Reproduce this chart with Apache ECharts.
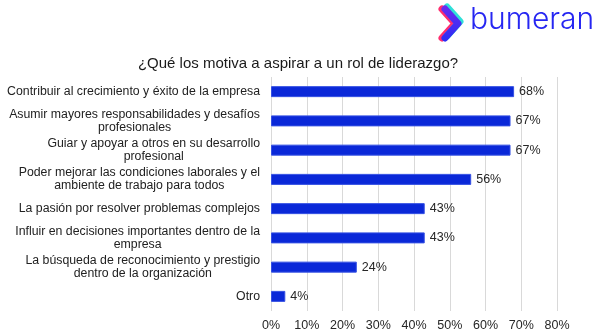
<!DOCTYPE html>
<html>
<head>
<meta charset="utf-8">
<script src="https://cdn.jsdelivr.net/npm/echarts@6/dist/echarts.min.js"></script>
<style>
  html, body { margin: 0; padding: 0; background: #fff; }
  #chart { width: 602px; height: 336px; }
</style>
</head>
<body>
<div id="chart"></div>
<script>
// Motivaciones para aspirar a un rol de liderazgo (% de respuestas)
const categories = [
  'Contribuir al crecimiento y éxito de la empresa',
  'Asumir mayores responsabilidades y desafíos\nprofesionales',
  'Guiar y apoyar a otros en su desarrollo\nprofesional',
  'Poder mejorar las condiciones laborales y el\nambiente de trabajo para todos',
  'La pasión por resolver problemas complejos',
  'Influir en decisiones importantes dentro de la\nempresa',
  'La búsqueda de reconocimiento y prestigio\ndentro de la organización',
  'Otro'
];
const values = [68, 67, 67, 56, 43, 43, 24, 4];
const axisMin = 0;
const axisMax = 80;
const axisStep = 10;

const titleText = '¿Qué los motiva a aspirar a un rol de liderazgo?';
const brandText = 'bumeran';

const chart = echarts.init(document.getElementById('chart'), null, { renderer: 'canvas' });

const FONT = 'Liberation Sans, Arial, sans-serif';

chart.setOption({
  backgroundColor: '#ffffff',
  animation: false,
  title: {
    text: titleText,
    left: 293,
    top: 51,
    textAlign: 'center',
    textStyle: { fontFamily: FONT, fontSize: 15, fontWeight: 'normal', color: '#1a1a1a' }
  },
  grid: { left: 271, right: 45, top: 77, bottom: 25 },
  xAxis: {
    type: 'value',
    min: axisMin,
    max: axisMax,
    interval: axisStep,
    axisLine: { show: false },
    axisTick: { show: false },
    axisLabel: {
      formatter: '{value}%',
      fontFamily: FONT, fontSize: 12.5, color: '#262626', margin: 8
    },
    splitLine: { lineStyle: { color: '#d9d9d9', width: 1 } }
  },
  yAxis: {
    type: 'category',
    inverse: true,
    data: categories,
    axisLine: { show: false },
    axisTick: { show: false },
    axisLabel: {
      margin: 11,
      formatter: function (v) {
        return v.split('\n').map(function (l) { return '{c|' + l + '}'; }).join('\n');
      },
      rich: {
        c: { align: 'center', fontFamily: FONT, fontSize: 12.3, color: '#222222', lineHeight: 13 }
      }
    }
  },
  series: [{
    type: 'bar',
    data: values,
    barWidth: 11,
    itemStyle: { color: '#0a28d8', borderColor: '#3550e3', borderWidth: 1 },
    label: {
      show: true,
      position: 'right',
      distance: 5,
      formatter: '{c}%',
      fontFamily: FONT, fontSize: 12.5, color: '#262626'
    }
  }],
  graphic: [
    // logo chevron: pink and cyan offsets beneath the blue mark
    { type: 'polyline', shape: { points: [[442, 9], [455, 23.5], [442, 38]] },
      style: { stroke: '#ff2d6f', lineWidth: 7, fill: null, lineJoin: 'round', lineCap: 'round' } },
    { type: 'polyline', shape: { points: [[447, 7], [460, 21.5], [447, 36]] },
      style: { stroke: '#2fe0d8', lineWidth: 7, fill: null, lineJoin: 'round', lineCap: 'round' } },
    { type: 'polyline', shape: { points: [[445, 9], [458, 23.5], [445, 38]] },
      style: {
        stroke: new echarts.graphic.LinearGradient(0, 0, 0, 1, [
          { offset: 0, color: '#6a2cf0' }, { offset: 1, color: '#2a2cf5' }
        ]),
        lineWidth: 7, fill: null, lineJoin: 'round', lineCap: 'round'
      } },
    { type: 'text', left: 470, top: 5,
      style: { text: brandText, fontFamily: 'Inter, Lato, sans-serif', fontSize: 30, fontWeight: 300, fill: '#2626f2' } }
  ]
});
</script>
</body>
</html>
